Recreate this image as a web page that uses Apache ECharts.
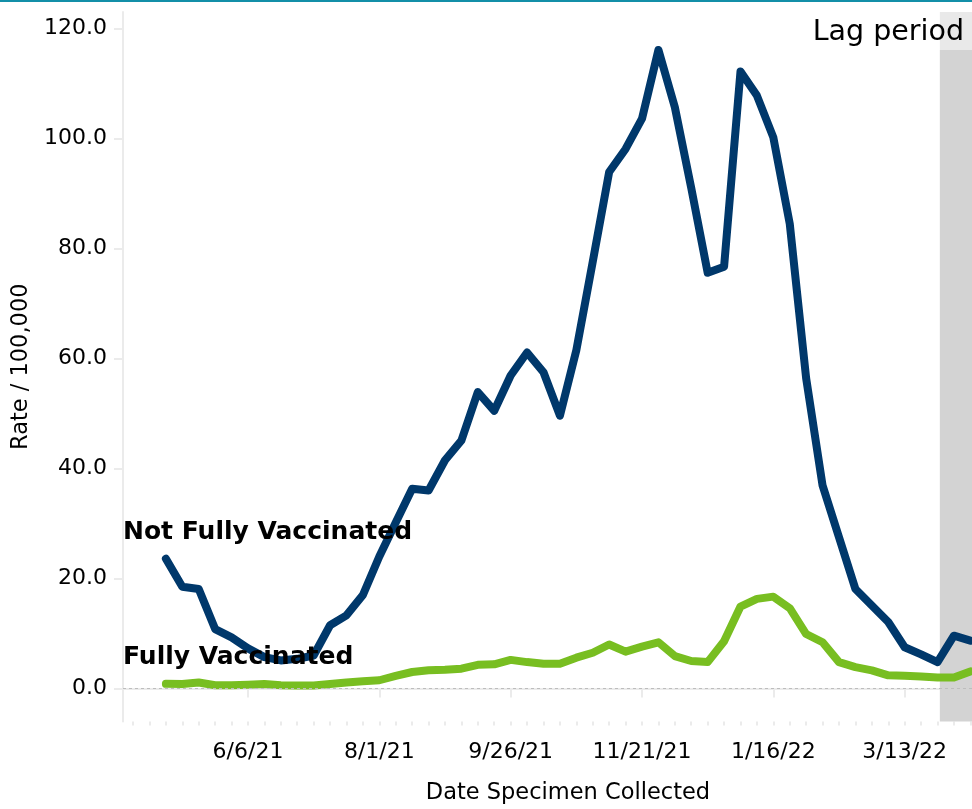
<!DOCTYPE html>
<html>
<head>
<meta charset="utf-8">
<script src="https://cdn.jsdelivr.net/npm/echarts@6/dist/echarts.min.js"></script>
<style>
  html, body { margin: 0; padding: 0; background: #fff; }
  #chart { width: 972px; height: 809px; }
</style>
</head>
<body>
<div id="chart"></div>
<script>
// Weekly specimen collection dates (week starting Sunday)
const weekDates = [
  '2021-05-02','2021-05-09','2021-05-16','2021-05-23','2021-05-30',
  '2021-06-06','2021-06-13','2021-06-20','2021-06-27','2021-07-04',
  '2021-07-11','2021-07-18','2021-07-25','2021-08-01','2021-08-08',
  '2021-08-15','2021-08-22','2021-08-29','2021-09-05','2021-09-12',
  '2021-09-19','2021-09-26','2021-10-03','2021-10-10','2021-10-17',
  '2021-10-24','2021-10-31','2021-11-07','2021-11-14','2021-11-21',
  '2021-11-28','2021-12-05','2021-12-12','2021-12-19','2021-12-26',
  '2022-01-02','2022-01-09','2022-01-16','2022-01-23','2022-01-30',
  '2022-02-06','2022-02-13','2022-02-20','2022-02-27','2022-03-06',
  '2022-03-13','2022-03-20','2022-03-27','2022-04-03','2022-04-10'
];

// Case rate per 100,000
const notFullyVaccinated = [
  23.6, 18.5, 18.1, 10.8, 9.3, 7.3, 5.7, 5.1, 5.4, 6.0,
  11.5, 13.3, 17.0, 24.0, 30.2, 36.3, 36.0, 41.5, 45.1, 53.9,
  50.5, 56.9, 61.1, 57.5, 49.6, 61.5, 77.6, 93.9, 98.1, 103.6,
  116.1, 105.7, 91.0, 75.6, 76.7, 112.2, 107.8, 100.2, 84.5, 56.4,
  36.9, 27.5, 18.1, 15.1, 12.1, 7.5, 6.2, 4.8, 9.6, 8.7
];
const fullyVaccinated = [
  0.85, 0.8, 1.1, 0.6, 0.6, 0.7, 0.8, 0.6, 0.55, 0.55,
  0.8, 1.1, 1.3, 1.5, 2.3, 3.0, 3.3, 3.4, 3.6, 4.3,
  4.4, 5.2, 4.8, 4.5, 4.5, 5.6, 6.5, 8.0, 6.7, 7.6,
  8.4, 5.9, 5.0, 4.8, 8.6, 14.9, 16.3, 16.7, 14.6, 9.9,
  8.4, 4.8, 3.9, 3.3, 2.4, 2.3, 2.2, 2.0, 2.0, 3.1
];

// Axis labels
const xTickLabels = ['2021-06-06','2021-08-01','2021-09-26','2021-11-21','2022-01-16','2022-03-13'];
const yTickLabels = [0, 20, 40, 60, 80, 100, 120];
const lagPeriodStart = '2022-03-28';

const ts = d => Date.parse(d + 'T00:00:00Z');
const DAY = 86400000;
const xMin = ts('2021-04-13') + 17 * 3600000;
const xMax = ts('2022-04-10') + 17 * 3600000;

// weekly minor ticks on every Sunday inside the axis range
const weeklyTicks = [];
for (let t = ts('2021-04-18'); t <= xMax; t += 7 * DAY) weeklyTicks.push(t);

const fmtDate = v => {
  const d = new Date(v);
  return (d.getUTCMonth() + 1) + '/' + d.getUTCDate() + '/' + String(d.getUTCFullYear()).slice(2);
};

const FONT = 'DejaVu Sans';
const AXIS_GREY = '#ebebeb';

const chart = echarts.init(document.getElementById('chart'), null, { renderer: 'canvas' });

chart.setOption({
  animation: false,
  backgroundColor: '#ffffff',
  textStyle: { fontFamily: FONT },
  grid: { left: 123, right: 0, top: 12, bottom: 87.5, containLabel: false },
  xAxis: [
    {
      type: 'value',
      min: xMin,
      max: xMax,
      scale: true,
      axisLine: { show: true, lineStyle: { color: AXIS_GREY, width: 2 } },
      axisTick: { show: true, customValues: xTickLabels.map(ts), length: 9, lineStyle: { color: AXIS_GREY, width: 2 } },
      axisLabel: {
        customValues: xTickLabels.map(ts),
        formatter: fmtDate,
        fontFamily: FONT, fontSize: 22, color: '#000', margin: 20
      },
      splitLine: { show: false }
    },
    {
      type: 'value',
      min: xMin,
      max: xMax,
      scale: true,
      position: 'bottom',
      axisLine: { show: false },
      axisTick: { show: true, customValues: weeklyTicks, length: 4, lineStyle: { color: AXIS_GREY, width: 2 } },
      axisLabel: { show: false },
      splitLine: { show: false }
    }
  ],
  yAxis: {
    type: 'value',
    min: -6,
    max: 123,
    name: 'Rate / 100,000',
    nameLocation: 'middle',
    nameGap: 90,
    nameTextStyle: { fontFamily: FONT, fontSize: 22.5, color: '#000' },
    axisLine: { show: true, lineStyle: { color: AXIS_GREY, width: 2 } },
    axisTick: { show: true, customValues: yTickLabels, length: 9, lineStyle: { color: AXIS_GREY, width: 2 } },
    axisLabel: {
      customValues: yTickLabels,
      formatter: v => v.toFixed(1),
      fontFamily: FONT, fontSize: 22, color: '#000', margin: 16
    },
    splitLine: { show: false }
  },
  series: [
    {
      name: 'Not Fully Vaccinated',
      type: 'line',
      data: weekDates.map((d, i) => [ts(d), notFullyVaccinated[i]]),
      showSymbol: false,
      symbol: 'none',
      lineStyle: { color: '#00386b', width: 8, cap: 'round', join: 'round' },
      z: 4,
      markArea: {
        silent: true,
        itemStyle: { color: '#d3d3d3' },
        label: {
          show: true,
          position: 'insideTopRight',
          distance: 0,
          formatter: 'Lag period',
          fontFamily: FONT,
          fontSize: 28.5,
          color: '#000',
          backgroundColor: 'rgba(255,255,255,0.5)',
          padding: [6, 8, 3, 6]
        },
        data: [[{ xAxis: ts(lagPeriodStart) }, { xAxis: xMax }]]
      },
      markLine: {
        silent: true,
        symbol: 'none',
        label: { show: false },
        lineStyle: { color: '#bdbdbd', type: [3, 3], width: 1 },
        data: [{ yAxis: 0 }]
      }
    },
    {
      name: 'Fully Vaccinated',
      type: 'line',
      data: weekDates.map((d, i) => [ts(d), fullyVaccinated[i]]),
      showSymbol: false,
      symbol: 'none',
      lineStyle: { color: '#78be21', width: 8, cap: 'round', join: 'round' },
      z: 3
    }
  ],
  graphic: [
    { type: 'rect', left: 0, top: 0, shape: { width: 972, height: 2 }, style: { fill: '#138fa8' }, z: 100 },
    {
      type: 'text', left: 123, top: 520, z: 100,
      style: { text: 'Not Fully Vaccinated', font: 'bold 25px "DejaVu Sans"', fill: '#000' }
    },
    {
      type: 'text', left: 123, top: 645, z: 100,
      style: { text: 'Fully Vaccinated', font: 'bold 25px "DejaVu Sans"', fill: '#000' }
    },
    {
      type: 'text', x: 568, y: 793, z: 100,
      style: { text: 'Date Specimen Collected', font: '22.5px "DejaVu Sans"', fill: '#000', align: 'center', verticalAlign: 'middle' }
    }
  ]
});
</script>
</body>
</html>
